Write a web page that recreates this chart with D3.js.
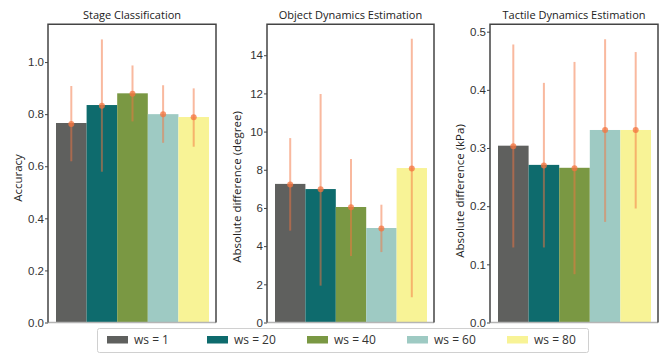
<!DOCTYPE html>
<html>
<head>
<meta charset="utf-8">
<script src="https://cdn.jsdelivr.net/npm/d3@7"></script>
<style>
  body { margin: 0; background: #fff; }
  svg { display: block; font-family: "Open Sans", "Noto Sans", sans-serif; }
  .tick text { fill: #333; }
</style>
</head>
<body>
<div id="chart"></div>
<script>
// Series (window sizes) and colours
const series = ["ws = 1", "ws = 20", "ws = 40", "ws = 60", "ws = 80"];
const colors = ["#5f605e", "#0e6b6d", "#7a9843", "#9ecac3", "#f8f396"];

// Stage Classification (accuracy)
const accBar  = [0.766, 0.835, 0.880, 0.800, 0.789];
const accMid  = [0.762, 0.832, 0.878, 0.800, 0.788];
const accLow  = [0.619, 0.579, 0.772, 0.690, 0.675];
const accHigh = [0.908, 1.087, 0.987, 0.911, 0.899];
const accTicks = [0.0, 0.2, 0.4, 0.6, 0.8, 1.0];

// Object Dynamics Estimation (degree)
const objBar  = [7.26, 6.99, 6.05, 4.95, 8.09];
const objMid  = [7.23, 6.98, 6.04, 4.93, 8.07];
const objLow  = [4.81, 1.93, 3.48, 3.69, 1.32];
const objHigh = [9.66, 11.97, 8.56, 6.17, 14.86];
const objTicks = [0, 2, 4, 6, 8, 10, 12, 14];

// Tactile Dynamics Estimation (kPa)
const tacBar  = [0.304, 0.271, 0.266, 0.331, 0.331];
const tacMid  = [0.303, 0.270, 0.265, 0.331, 0.331];
const tacLow  = [0.129, 0.129, 0.083, 0.173, 0.196];
const tacHigh = [0.478, 0.412, 0.448, 0.487, 0.465];
const tacTicks = [0.0, 0.1, 0.2, 0.3, 0.4, 0.5];

const W = 665, H = 353;
const plotTop = 24.3, plotBottom = 322.5;

const panels = [
  {title: "Stage Classification", ylabel: "Accuracy", x0: 48, x1: 216, ymax: 1.145,
   bar: accBar, mid: accMid, low: accLow, high: accHigh, ticks: accTicks, fmt: d3.format(".1f"), labelY: 178},
  {title: "Object Dynamics Estimation", ylabel: "Absolute difference  (degree)", x0: 267, x1: 434, ymax: 15.62,
   bar: objBar, mid: objMid, low: objLow, high: objHigh, ticks: objTicks, fmt: d3.format("d"), labelY: 187},
  {title: "Tactile Dynamics Estimation", ylabel: "Absolute difference  (kPa)", x0: 490, x1: 658, ymax: 0.5127,
   bar: tacBar, mid: tacMid, low: tacLow, high: tacHigh, ticks: tacTicks, fmt: d3.format(".1f"), labelY: 191}
];

const svg = d3.select("#chart")
  .append("svg")
  .attr("width", W)
  .attr("height", H);

panels.forEach(p => {
  const g = svg.append("g");

  const x = d3.scaleBand()
    .domain(series)
    .range([p.x0 + 8, p.x1 - 7])
    .padding(0);

  const y = d3.scaleLinear()
    .domain([0, p.ymax])
    .range([plotBottom, plotTop]);

  // bars
  g.selectAll(".bar")
    .data(series)
    .enter()
    .append("rect")
    .attr("x", d => x(d))
    .attr("y", (d, i) => y(p.bar[i]))
    .attr("width", x.bandwidth())
    .attr("height", (d, i) => y(0) - y(p.bar[i]))
    .attr("fill", (d, i) => colors[i]);

  // error bars
  g.selectAll(".err")
    .data(series)
    .enter()
    .append("line")
    .attr("x1", d => x(d) + x.bandwidth() / 2)
    .attr("x2", d => x(d) + x.bandwidth() / 2)
    .attr("y1", (d, i) => y(p.low[i]))
    .attr("y2", (d, i) => y(p.high[i]))
    .attr("stroke", "#f4743f")
    .attr("stroke-opacity", 0.5)
    .attr("stroke-width", 2);

  g.selectAll(".dot")
    .data(series)
    .enter()
    .append("circle")
    .attr("cx", d => x(d) + x.bandwidth() / 2)
    .attr("cy", (d, i) => y(p.mid[i]))
    .attr("r", 3)
    .attr("fill", "#f4743f")
    .attr("fill-opacity", 0.75);

  // frame
  g.append("line")
    .attr("x1", p.x0).attr("x2", p.x1)
    .attr("y1", plotBottom).attr("y2", plotBottom)
    .attr("stroke", "#b5b5b5").attr("stroke-width", 1.5);
  g.append("path")
    .attr("d", `M${p.x0},${plotBottom}V${plotTop}H${p.x1}V${plotBottom}`)
    .attr("fill", "none")
    .attr("stroke", "#444")
    .attr("stroke-width", 1.5);

  // y axis
  const ax = g.append("g")
    .attr("transform", `translate(${p.x0},0)`)
    .call(d3.axisLeft(y)
      .tickValues(p.ticks)
      .tickFormat(p.fmt)
      .tickSize(3)
      .tickSizeOuter(0)
      .tickPadding(1));
  ax.select(".domain").remove();
  ax.selectAll(".tick line").attr("stroke", "#444");
  ax.selectAll(".tick text").style("font-size", "11.5px");

  // y label
  g.append("text")
    .attr("transform", `translate(${p.x0 - 26},${p.labelY}) rotate(-90)`)
    .attr("text-anchor", "middle")
    .attr("fill", "#222")
    .style("font-size", "11.5px")
    .text(p.ylabel);

  // title
  g.append("text")
    .attr("x", (p.x0 + p.x1) / 2)
    .attr("y", 19)
    .attr("text-anchor", "middle")
    .attr("fill", "#222")
    .style("font-size", "11px")
    .text(p.title);
});

// legend
const legend = svg.append("g");
legend.append("rect")
  .attr("x", 97.5).attr("y", 328.5)
  .attr("width", 491).attr("height", 24)
  .attr("rx", 2)
  .attr("fill", "#fff")
  .attr("stroke", "#d0d0d0");

const legendX = d3.scalePoint()
  .domain(series)
  .range([107, 507]);

const items = legend.selectAll(".item")
  .data(series)
  .enter()
  .append("g")
  .attr("transform", d => `translate(${legendX(d)},336)`);

items.append("rect")
  .attr("width", 21)
  .attr("height", 7.5)
  .attr("fill", (d, i) => colors[i]);

items.append("text")
  .attr("x", 27)
  .attr("y", 8)
  .attr("fill", "#333")
  .style("font-size", "12px")
  .text(d => d);
</script>
</body>
</html>
